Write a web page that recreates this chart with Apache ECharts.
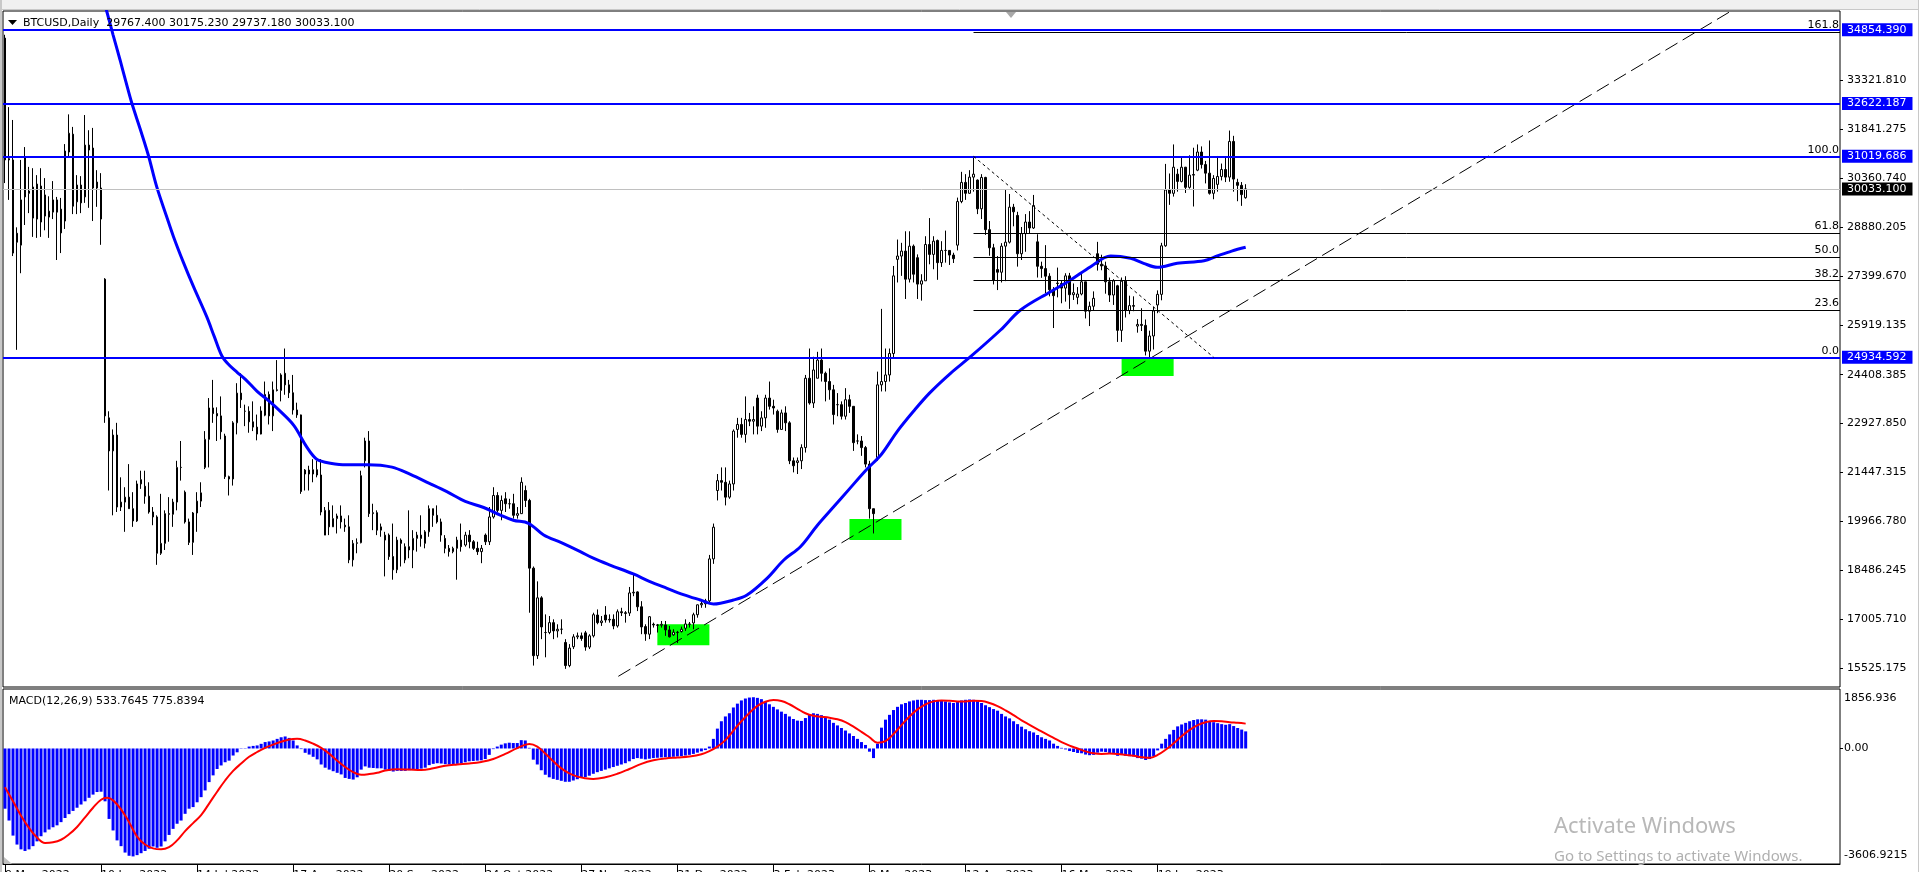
<!DOCTYPE html>
<html><head><meta charset="utf-8">
<script src="https://cdn.jsdelivr.net/npm/echarts@6.0.0/dist/echarts.min.js"></script>
<style>html,body{margin:0;padding:0;background:#fff;overflow:hidden;width:1919px;height:872px}#c{width:1919px;height:872px}</style>
</head><body><div id="c"></div>
<script>
const FONT = 'DejaVu Sans';
const symbolTitle = 'BTCUSD,Daily  29767.400 30175.230 29737.180 30033.100';
const macdTitle = 'MACD(12,26,9) 533.7645 775.8394';
const dateLabels = ['9 May 2022','10 Jun 2022','14 Jul 2022','17 Aug 2022','20 Sep 2022','24 Oct 2022','27 Nov 2022','31 Dec 2022','3 Feb 2023','9 Mar 2023','12 Apr 2023','16 May 2023','19 Jun 2023'];
const priceTicks = [15525.175,17005.710,18486.245,19966.780,21447.315,22927.850,24408.385,25919.135,27399.670,28880.205,30360.740,31841.275,33321.810];
const macdMin = -3606.9215, macdMax = 1856.936;
const macdTicks = [-3606.9215, 0, 1856.936];
const macdTickLabels = ['-3606.9215','0.00','1856.936'];
const blueLevels = [34854.390, 32622.187, 31019.686, 24934.592];
const bidPrice = 30033.100;
const fibHigh = 31019.686, fibLow = 24934.592;
const fibRatios = [161.8, 100.0, 61.8, 50.0, 38.2, 23.6, 0.0];
const fibStartBar = 242, fibEndBar = 302;
const trendLine = [[153.25, 15275], [431.3, 35420]];
const greenBoxes = [[163, 176, 16853, 16217], [211, 224, 20040, 19404], [279, 292, 24914, 24369]];

// daily candles [open, high, low, close]
const ohlc = [
[34600,34700,30210,30910],[30910,32510,29700,30950],[30910,32120,28000,28090],[28690,28870,25160,28420],[28330,30910,27480,29700],
[30970,31300,28940,29790],[29970,30700,29300,29900],[30090,30660,28580,29150],[29120,30450,28550,30180],[30120,30660,28580,29030],
[29850,30360,28780,29210],[29180,29810,28550,29360],[29330,30270,29120,29700],[29700,29790,27880,29330],[29420,29760,28090,28700],
[29060,31390,28820,31180],[31150,32290,31000,31720],[31690,31910,29270,29510],[29640,30450,29270,30150],[30150,30420,29300,29610],
[29790,32270,29610,31360],[31360,31810,29460,31210],[31270,31880,29060,30060],[30240,30600,29490,30060],[30060,30510,28340,29120],
[27300,27330,22950,23160],[23100,23300,20900,22100],[22100,22750,20150,22580],[22580,22950,20250,20400],[20400,21300,20280,20550],
[20550,21000,19650,20700],[20700,21700,20350,20350],[20350,20850,19800,19980],[19980,21200,19950,21100],[21100,21500,20950,21230],
[21030,21500,20500,20730],[20730,21150,20200,20250],[20250,20400,19850,20100],[20100,20150,18650,19000],[19000,20800,18950,19300],
[19300,20300,19100,20200],[20200,20700,19350,20180],[20180,20650,19800,20550],[20550,21800,20300,21600],[21600,22400,21200,21600],
[20850,20900,19900,19950],[19950,20050,19250,19330],[19330,20250,18950,20220],[20220,20850,19650,20580],[20580,21150,20400,20830],
[21600,22700,21550,22450],[22450,23700,21600,23400],[23400,24250,22950,23230],[23230,23420,22400,23160],[23160,23750,22450,22680],
[22550,22620,21250,21320],[21320,21350,20750,21250],[21250,23000,21050,22950],[22950,24150,22600,23850],[23850,24450,23400,23650],
[23300,23500,22850,23300],[23300,23450,22650,22980],[22980,23600,22700,22820],[22820,23200,22420,22610],[22610,23450,22600,23310],
[23180,24200,23150,23810],[23810,23900,22900,23160],[23160,24200,22700,23950],[23950,24850,23900,23930],[23930,24450,23600,24400],
[24450,25200,23800,24100],[24100,24250,23700,23860],[23860,24400,23200,23340],[23340,23560,23100,23190],[23190,23200,20800,20870],
[21400,21550,20900,21520],[21520,21650,20900,21400],[21400,21850,21150,21530],[21530,21800,21300,21370],[21370,21850,20150,20250],
[19550,20400,19550,20300],[20300,20550,19550,19800],[19800,20450,19800,20050],[20050,20200,19600,20130],[20130,20450,19750,19950],
[19850,20050,19650,19800],[19800,20150,18700,18800],[18800,19400,18600,19300],[19300,19450,19000,19320],[19320,21500,19300,21350],
[21800,22500,21600,22400],[22400,22700,20100,20200],[20200,20500,19700,20230],[20230,20300,19550,19700],[19700,19900,19500,19800],
[19400,19650,18300,19550],[19550,19600,18800,18900],[18900,19900,18200,18500],[18500,19500,18400,19400],[19400,19450,18600,19300],
[18800,19300,18700,19200],[19200,20300,18850,19100],[19100,19700,18550,19450],[19450,19650,19050,19550],[19550,20150,19200,19450],
[19300,19700,19150,19650],[19650,20450,19500,20350],[20350,20350,19800,20150],[20150,20450,19900,19950],[19950,20050,19350,19550],
[19450,19550,19000,19150],[19150,19250,18900,19050],[19050,19200,19000,19150],[19150,19500,18200,19400],[19400,19900,19050,19200],
[19250,19650,19200,19550],[19550,19700,19150,19350],[19350,19400,19100,19150],[19150,19350,18950,19050],[19050,19250,18700,19150],
[19550,19600,19250,19350],[19350,20400,19250,20100],[20100,21000,20050,20750],[20750,20850,20250,20300],[20300,20750,20000,20600],
[20650,20850,20250,20500],[20500,20650,20350,20500],[20500,20800,20050,20150],[20150,20400,20050,20200],[20200,21300,20200,21150],
[20900,21050,20400,20600],[20600,20650,17200,18550],[18550,18600,15600,15900],[15900,18150,15800,17650],[17650,17700,16400,16770],
[16600,17150,15850,16600],[16600,17100,16550,16900],[16900,17000,16400,16650],[16650,16850,16450,16700],[16700,17000,16550,16700],
[16300,16400,15500,15600],[15600,16250,15550,16130],[16170,16550,16100,16470],[16470,16600,16400,16500],[16500,16600,16350,16420],
[16590,16650,16050,16160],[16160,16550,16100,16500],[16500,17200,16450,17140],[17130,17300,16850,16900],[16900,17100,16800,16950],
[17130,17400,16900,16980],[16980,17150,16900,17000],[17000,17150,16700,16800],[16800,17300,16750,17230],[17230,17350,17100,17200],
[17200,17250,16900,17180],[17190,17980,17100,17800],[17800,18350,17700,17820],[17830,17850,17250,17380],[17380,17550,16550,16770],
[16780,16850,16350,16560],[16550,17100,16400,17080],[16850,16900,16750,16830],[16830,16860,16600,16820],[16820,16950,16750,16850],
[16830,16950,16500,16680],[16680,16800,16450,16470],[16530,16700,16500,16610],[16610,16650,16280,16600],[16630,16780,16600,16700],
[16730,17000,16650,16860],[16860,16920,16750,16850],[16890,17200,16700,17140],[17140,17450,17050,17440],[17440,17550,17350,17480],
[17470,17620,17350,17560],[17560,18950,17500,18830],[18830,19900,18680,19790],[20900,21400,20600,21200],[21200,21600,20900,21150],
[21150,21600,20450,20700],[20700,21200,20650,21100],[21100,22750,20900,22700],[22750,23100,22500,22900],[22900,23100,22500,22600],
[22600,23750,22350,23050],[23050,23250,22850,23000],[23000,23450,22600,23050],[23700,23800,22600,22850],[22850,23300,22700,23100],
[23100,23800,22800,23700],[23700,24200,23350,23450],[23450,23650,23200,23400],[23300,23350,22650,22750],[22750,23350,22750,23250],
[23250,23450,22700,22950],[22950,23000,21700,21800],[21800,21900,21450,21650],[21750,21900,21400,21800],[21800,22300,21550,22200],
[22200,24400,22050,24300],[24300,25200,23500,23550],[23550,24950,23400,24550],[24300,25100,24300,24850],[24850,25200,24200,24450],
[24450,24500,23600,24200],[24200,24600,23650,23950],[23950,24100,22900,23200],[23500,23850,23150,23500],[23500,23600,23050,23150],
[23150,24000,23050,23650],[23650,23800,23250,23450],[23450,23450,22100,22350],[22400,22600,22300,22400],[22400,22550,21950,22200],
[22200,22250,21600,21700],[21700,21800,20050,20350],[20350,20350,19600,20200],[21900,24500,21800,24100],[24100,26400,23900,24200],
[24200,25200,23900,24400],[24400,25200,24200,25050],[25050,27700,24900,27400],[27900,28500,27200,28000],[28000,28400,27400,28150],
[28150,28750,26700,27300],[27300,28750,27200,28300],[28300,28350,27200,27450],[27950,28050,26700,27150],[27150,27450,26650,27250],
[27250,28600,27250,28350],[28350,29150,27750,28050],[28050,28600,27600,28450],[28470,28500,27280,27800],[27800,28450,27670,28170],
[28170,28770,27800,28170],[28170,28180,27730,28030],[28030,28100,27790,27920],[28330,29770,28170,29650],[29650,30550,29600,30230],
[30230,30480,29700,29900],[29900,30600,29890,30390],[30390,31019.686,29950,30480],[30300,30320,29270,29430],[29430,30480,29120,30380],
[30380,30400,28640,28800],[28800,29060,28010,28250],[28250,28370,27140,27270],[27590,28000,26970,27510],[27510,28390,27200,28300],
[28300,30020,27240,28420],[28420,29880,28380,29480],[29480,29580,28900,29340],[29230,29340,27680,28070],[28070,28880,27880,28680],
[28680,29270,28130,29030],[29030,29360,28690,28850],[28850,29850,28820,29530],[28430,28660,27350,27690],[27690,27830,27340,27620],
[27620,28330,26880,27390],[27390,27480,26780,26980],[26980,27060,25820,26800],[27180,27650,26750,27170],[27170,27270,26570,27030],
[27030,27480,26620,27400],[27400,27490,26400,26830],[26830,27170,26670,26890],[26750,27060,26540,26850],[26850,27480,26810,27220],
[27220,27220,26110,26330],[26330,26620,25880,26480],[26480,26930,26340,26720],[28070,28430,27560,27750],[27750,28040,27570,27700],
[27700,27830,26860,27220],[27220,27350,26610,26820],[26820,27300,26520,27250],[27100,27130,25400,25750],[25750,27350,25400,27240],
[27240,27390,26140,26350],[26350,26800,26240,26500],[26500,26780,26330,26480],[25880,26090,25680,25930],[25930,26420,25730,25900],
[25900,26080,24990,25120],[25120,25740,24934.6,25580],[25580,26460,25170,26340],[26520,26960,26270,26840],[26840,28400,26660,28310],
[28310,30790,28280,30000],[30000,30500,29550,29900],[29900,31380,29800,30690],[30480,30640,29950,30260],[30260,31000,30230,30690],
[30690,30700,29910,30080],[30080,31050,30040,30450],[30450,31280,29500,30470],[30600,31380,30570,31150],[31150,31320,30650,30770],
[30770,30880,30200,30510],[30510,31500,29860,29900],[29900,30450,29720,30350],[30170,31030,29950,30410],[30410,30800,30290,30620],
[30620,30980,30240,30390],[30390,31800,30250,31470],[31470,31640,29950,30330],[30230,30340,29660,30140],[30140,30240,29520,29860],
[29767.4,30175.23,29737.18,30033.1]
];

// moving average: [bar, price]
const maLine = [[24.5,35800],[25.4,35420],[27,34700],[28.75,33937],[30.2,33280],[31.7,32625],[33.8,31840],[35.8,31060],[37.9,30100],
[40.4,29190],[42.1,28586],[44.6,27800],[47.1,27072],[50.4,26164],[52.3,25560],[54.2,24974],[56,24700],[58,24480],[60,24275],[63,23904],
[66,23608],[69,23275],[72.2,22867],[75.3,22238],[77.7,21868],[80,21757],[84.4,21683],[90.6,21683],[96.7,21609],[101.3,21386],
[105.9,21127],[110.4,20868],[115,20572],[119.6,20386],[123.75,20159],[127,20000],[130.8,19908],[134.6,19554],[139,19320],[143.75,19048],
[147,18850],[151,18650],[157,18373],[161,18150],[165.4,17940],[169.5,17750],[173.75,17585],[177,17465],[182,17585],[185.4,17737],
[190.4,18242],[194.6,18797],[198.75,19200],[203,19850],[207,20400],[211,20950],[215,21500],[219,22000],[223,22700],[227,23300],
[231,23850],[236.25,24450],[241.25,24953],[248.75,25761],[253.75,26367],[261.25,26921],[266.25,27275],[271.25,27678],[276.25,28002],
[281.25,27932],[284.5,27780],[287.9,27660],[292.9,27781],[299.6,27860],[302.9,28002],[306.5,28150],[310,28265]];

// MACD main (histogram), one per bar
const macdHist = [
-1880,-2250,-2720,-3000,-3150,-3200,-3150,-3050,-2900,-2740,
-2620,-2530,-2460,-2400,-2300,-2170,-2050,-1950,-1850,-1750,
-1650,-1540,-1440,-1360,-1350,-1650,-2200,-2560,-2870,-3050,
-3250,-3350,-3370,-3330,-3270,-3200,-3130,-3060,-3100,-3060,
-2900,-2700,-2510,-2350,-2250,-2040,-1880,-1830,-1680,-1520,
-1310,-1050,-840,-640,-530,-430,-380,-220,-120,-10,
10,60,80,95,145,200,220,250,300,350,
375,330,250,95,-20,-135,-190,-260,-340,-500,
-600,-660,-710,-760,-810,-920,-950,-970,-900,-660,
-560,-600,-610,-620,-620,-660,-700,-720,-700,-700,
-700,-680,-670,-650,-630,-600,-520,-480,-460,-470,
-490,-500,-500,-480,-470,-430,-400,-390,-380,-370,
-330,-200,-20,60,120,160,180,170,170,260,
250,20,-350,-500,-680,-820,-900,-950,-980,-1010,
-1040,-1040,-1000,-960,-920,-890,-850,-790,-740,-700,
-660,-620,-580,-540,-500,-460,-400,-330,-300,-320,
-340,-320,-300,-290,-280,-270,-270,-260,-250,-240,
-220,-200,-170,-130,-90,-50,60,300,620,850,
1000,1100,1280,1400,1500,1560,1590,1600,1580,1540,
1450,1380,1300,1220,1150,1080,1000,920,870,860,
950,1060,1100,1080,1040,980,900,800,720,640,
560,470,390,300,200,110,-100,-300,150,650,
900,1050,1200,1300,1380,1420,1470,1500,1520,1520,
1510,1510,1520,1500,1490,1470,1440,1420,1450,1500,
1520,1530,1520,1480,1420,1350,1290,1230,1180,1080,
1000,940,850,760,680,600,540,500,420,350,
300,250,150,80,20,-30,-80,-110,-140,-150,
-190,-210,-200,-130,-100,-110,-140,-140,-230,-200,
-230,-240,-250,-300,-320,-360,-330,-250,-60,150,
300,440,580,690,750,800,850,890,910,910,
900,860,820,790,760,740,760,700,640,590,
533.7645
];

// MACD signal: [bar, value]
const macdSignal = [[0,-1210],[2,-1650],[4,-2100],[6,-2480],[8,-2780],[10,-2950],[12,-2930],[14,-2850],[16,-2680],[18,-2450],[20,-2150],
[22,-1850],[24,-1600],[25.5,-1540],[27,-1620],[29,-1900],[31,-2300],[33,-2750],[35,-3000],[37,-3120],[39,-3150],[41,-3080],[43,-2870],
[45,-2580],[47,-2330],[49,-2080],[51,-1720],[53,-1350],[55,-1000],[57,-700],[59,-470],[61,-260],[63,-110],[65,20],[67,120],[69,210],
[71,280],[73,300],[75,250],[77,150],[79,20],[81,-160],[83,-380],[85,-580],[87,-740],[89,-820],[91,-800],[93,-760],[95,-690],[98,-650],
[101,-660],[104,-670],[107,-620],[110,-540],[113,-500],[116,-470],[119,-420],[122,-330],[125,-170],[128,10],[131,140],[133,60],
[135,-160],[137,-400],[139,-620],[141,-780],[143,-880],[145,-930],[147,-950],[150,-900],[153,-790],[156,-640],[159,-480],[162,-370],
[165,-310],[168,-280],[171,-250],[174,-180],[176,-80],[178,60],[180,260],[182,560],[184,850],[186,1110],[188,1330],[190,1460],
[192,1510],[194,1480],[196,1380],[198,1240],[200,1100],[202,1020],[204,990],[206,960],[208,910],[210,820],[212,680],[214,520],
[216,350],[218,180],[220,230],[222,450],[224,730],[226,1000],[228,1220],[230,1380],[232,1470],[234,1500],[236,1490],[238,1470],
[240,1470],[242,1490],[244,1480],[246,1420],[248,1320],[250,1190],[252,1040],[254,880],[256,740],[258,600],[260,460],[262,330],
[264,200],[266,90],[268,0],[270,-90],[272,-150],[274,-170],[276,-160],[278,-170],[280,-200],[282,-230],[284,-270],[286,-290],
[288,-200],[290,-40],[292,160],[294,380],[296,580],[298,730],[300,820],[302,860],[304,850],[306,820],[308,800],[310,775.8394]];

const NCAT = 459;
const cats = Array.from({length: NCAT}, (_, i) => String(i));
const candleData = ohlc.map(d => [d[0], d[3], d[2], d[1]]);
const xMax = NCAT - 0.5;

const lblBase = {fontFamily: FONT, fontSize: 11, lineHeight: 11};
const markLines = [];
fibRatios.forEach(r => {
  const lvl = fibLow + (fibHigh - fibLow) * r / 100;
  markLines.push([
    {coord: [fibStartBar, lvl], lineStyle: {color: '#000', width: 1, type: 'solid'},
     label: Object.assign({show: true, position: 'insideEndTop', distance: 1, color: '#000', formatter: r.toFixed(1)}, lblBase)},
    {coord: [xMax, lvl]}
  ]);
});
blueLevels.forEach(v => {
  markLines.push({yAxis: v, lineStyle: {color: '#0000ff', width: 2, type: 'solid'},
    label: Object.assign({show: true, position: 'end', distance: 2, formatter: v.toFixed(3), color: '#fff', backgroundColor: '#0000ff', padding: [1, 6, 1, 5]}, lblBase)});
});
markLines.push({yAxis: bidPrice, lineStyle: {color: '#c0c0c0', width: 1, type: 'solid'},
  label: Object.assign({show: true, position: 'end', distance: 2, formatter: bidPrice.toFixed(3), color: '#fff', backgroundColor: '#000', padding: [1, 6, 1, 5]}, lblBase)});

const isTick = (i) => i % 24 === 0 && i <= 288;

const option = {
  animation: false,
  backgroundColor: '#fff',
  textStyle: {fontFamily: FONT},
  grid: [
    {left: 3, top: 11, width: 1837, height: 676, show: true, borderColor: '#000', borderWidth: 1, backgroundColor: 'transparent', outerBoundsMode: 'none', containLabel: false},
    {left: 3, top: 689, width: 1837, height: 175, show: true, borderColor: '#000', borderWidth: 1, backgroundColor: 'transparent', outerBoundsMode: 'none', containLabel: false}
  ],
  xAxis: [
    {type: 'category', gridIndex: 0, data: cats, boundaryGap: true, axisLine: {show: false, onZero: false}, axisTick: {show: false}, axisLabel: {show: false}, splitLine: {show: false}},
    {type: 'category', gridIndex: 1, data: cats, boundaryGap: true, position: 'bottom',
      axisLine: {show: true, onZero: false, lineStyle: {color: '#000', width: 1}},
      axisTick: {show: true, alignWithLabel: true, interval: isTick, length: 8, lineStyle: {color: '#000'}},
      axisLabel: {show: true, interval: isTick, formatter: (v, i) => dateLabels[i / 24], align: 'left', margin: 6, fontFamily: FONT, fontSize: 11, color: '#000'},
      splitLine: {show: false}},
    {type: 'value', gridIndex: 0, min: -0.5, max: xMax, show: false, axisLine: {onZero: false}},
    {type: 'value', gridIndex: 1, min: -0.5, max: xMax, show: false, axisLine: {onZero: false}}
  ],
  yAxis: [
    {type: 'value', gridIndex: 0, position: 'right', min: 14951, max: 35420, splitLine: {show: false}, axisLine: {show: false, onZero: false},
      axisTick: {show: true, customValues: priceTicks, length: 3, lineStyle: {color: '#000'}},
      axisLabel: {customValues: priceTicks, formatter: v => v.toFixed(3), margin: 7, fontFamily: FONT, fontSize: 11, color: '#000'}},
    {type: 'value', gridIndex: 1, position: 'right', min: macdMin, max: macdMax, splitLine: {show: false}, axisLine: {show: false, onZero: false},
      axisTick: {show: true, customValues: [0], length: 3, lineStyle: {color: '#000'}},
      axisLabel: {customValues: macdTicks, margin: 4, fontFamily: FONT, fontSize: 11, color: '#000',
        formatter: v => {
          const i = macdTicks.indexOf(v);
          if (i === 2) return '{t|' + macdTickLabels[2] + '}';
          if (i === 0) return '{b|' + macdTickLabels[0] + '}';
          return macdTickLabels[1];
        },
        rich: {t: {padding: [18, 0, 0, 0], fontFamily: FONT, fontSize: 11, color: '#000'},
               b: {padding: [0, 0, 18, 0], fontFamily: FONT, fontSize: 11, color: '#000'}}}}
  ],
  series: [
    {type: 'line', name: 'boxes', xAxisIndex: 2, yAxisIndex: 0, data: [[-20, 20000]], symbol: 'none', lineStyle: {opacity: 0}, z: 1, silent: true,
      markArea: {silent: true, itemStyle: {color: '#00ff00', opacity: 1},
        data: greenBoxes.map(b => [{coord: [b[0], b[2]]}, {coord: [b[1], b[3]]}])}},
    {type: 'candlestick', name: 'BTCUSD', xAxisIndex: 0, yAxisIndex: 0, data: candleData, barWidth: 2, z: 3,
      itemStyle: {color: '#ffffff', color0: '#000000', borderColor: '#000000', borderColor0: '#000000', borderWidth: 1}},
    {type: 'line', name: 'trend', xAxisIndex: 2, yAxisIndex: 0, data: trendLine, symbol: 'none', z: 4, silent: true,
      lineStyle: {color: '#000', width: 1, type: [14, 6]}},
    {type: 'line', name: 'MA', xAxisIndex: 2, yAxisIndex: 0, data: maLine, symbol: 'none', smooth: 0.35, z: 4, silent: true,
      lineStyle: {color: '#0000ff', width: 3}},
    {type: 'line', name: 'fib', xAxisIndex: 2, yAxisIndex: 0, data: [[fibStartBar, fibHigh], [fibEndBar, fibLow]], symbol: 'none', z: 5, silent: true,
      lineStyle: {color: '#000', width: 1, type: [3, 3]},
      markLine: {silent: true, symbol: ['none', 'none'], animation: false, data: markLines}},
    {type: 'bar', name: 'MACD', xAxisIndex: 1, yAxisIndex: 1, data: macdHist, barWidth: 3, itemStyle: {color: '#0000ff'}, silent: true},
    {type: 'line', name: 'Signal', xAxisIndex: 3, yAxisIndex: 1, data: macdSignal, symbol: 'none', smooth: 0.4, z: 4, silent: true,
      lineStyle: {color: '#ff0000', width: 2}}
  ],
  graphic: [
    {type: 'rect', shape: {x: 0, y: 0, width: 1919, height: 9}, style: {fill: '#f0f0f0'}, silent: true, z: 50},
    {type: 'line', shape: {x1: 0, y1: 9.5, x2: 1919, y2: 9.5}, style: {stroke: '#c8c8c8', lineWidth: 1}, silent: true, z: 50},
    {type: 'rect', shape: {x: 0, y: 0, width: 2, height: 872}, style: {fill: '#c8c8c8'}, silent: true, z: 50},
    {type: 'line', shape: {x1: 1918.5, y1: 0, x2: 1918.5, y2: 872}, style: {stroke: '#c8c8c8', lineWidth: 1}, silent: true, z: 50},
    {type: 'polygon', shape: {points: [[1006, 12], [1016, 12], [1011, 18]]}, style: {fill: '#a8a8a8'}, silent: true, z: 50},
    {type: 'polygon', shape: {points: [[8, 20], [17, 20], [12.5, 25]]}, style: {fill: '#000'}, silent: true, z: 50},
    {type: 'text', style: {x: 23, y: 23, text: symbolTitle, font: '11px "DejaVu Sans"', fill: '#000', verticalAlign: 'middle'}, silent: true, z: 50},
    {type: 'text', style: {x: 9, y: 701, text: macdTitle, font: '11px "DejaVu Sans"', fill: '#000', verticalAlign: 'middle'}, silent: true, z: 50},
    {type: 'polygon', shape: {points: [[4, 857], [4, 864], [12, 864]]}, style: {fill: '#c0c0c0'}, silent: true, z: 50},
    {type: 'text', style: {x: 1554, y: 827, text: 'Activate Windows', font: '22px "Noto Sans"', fill: '#b8b8b8', verticalAlign: 'middle'}, silent: true, z: 60},
    {type: 'text', style: {x: 1554, y: 857, text: 'Go to Settings to activate Windows.', font: '15px "Noto Sans"', fill: '#b0b0b0', verticalAlign: 'middle'}, silent: true, z: 60}
  ]
};
const chart = echarts.init(document.getElementById('c'), null, {renderer: 'canvas', width: 1919, height: 872});
chart.setOption(option);
</script></body></html>
